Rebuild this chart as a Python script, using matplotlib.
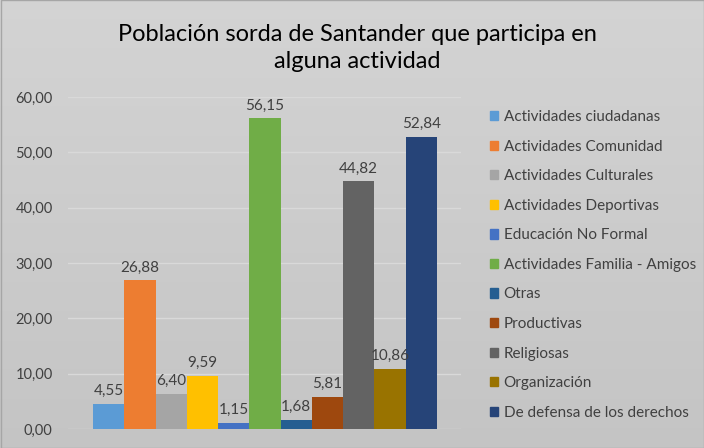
import matplotlib
matplotlib.use("Agg")
import matplotlib.pyplot as plt
from matplotlib.patches import Rectangle
import numpy as np

categories = ["Actividades ciudadanas", "Actividades Comunidad", "Actividades Culturales",
              "Actividades Deportivas", "Educación No Formal", "Actividades Familia - Amigos",
              "Otras", "Productivas", "Religiosas", "Organización", "De defensa de los derechos"]
values = [4.55, 26.88, 6.40, 9.59, 1.15, 56.15, 1.68, 5.81, 44.82, 10.86, 52.84]
colors = ["#5B9BD5", "#ED7D31", "#A5A5A5", "#FFC000", "#4472C4", "#70AD47",
          "#255E91", "#9E480E", "#636363", "#997300", "#264478"]
yticks = [0, 10, 20, 30, 40, 50, 60]
title = "Población sorda de Santander que participa en\nalguna actividad"

plt.rcParams['font.family'] = ['Lato', 'DejaVu Sans']

W, H = 704, 448
fig = plt.figure(figsize=(W/100, H/100), dpi=100)
# background gradient
bg = fig.add_axes([0, 0, 1, 1], zorder=-10)
grad = np.linspace(0.83, 0.77, 256).reshape(-1, 1)
bg.imshow(np.dstack([grad, grad, grad]), aspect='auto', extent=[0, 1, 0, 1])
bg.axis('off')
fig.patches.append(Rectangle((0.5/W, 0.5/H), 1-1/W, 1-1/H, transform=fig.transFigure,
                             fill=False, edgecolor='#a6a6a6', linewidth=1))

ax = fig.add_axes([68/W, 1-429/H, (461-68)/W, (429-97)/H])
ax.patch.set_alpha(0)
x = np.arange(len(values))
bars = ax.bar(x, values, width=1.0, color=colors, label=categories, zorder=3)
for xi, v in zip(x, values):
    ax.annotate(f"{v:.2f}".replace('.', ','), (xi, v), xytext=(0, 4), textcoords='offset points',
                ha='center', va='bottom', fontsize=11, color='#404040', zorder=4)
ax.set_ylim(0, 60)
ax.set_xlim(-1.3, 11.27)
ax.set_yticks(yticks)
ax.set_yticklabels([f"{t:.2f}".replace('.', ',') for t in yticks], fontsize=10.5, color='#404040')
ax.tick_params(axis='y', length=0, pad=11)
ax.set_xticks([])
ax.grid(axis='y', color='#d9d9d9', linewidth=1, zorder=0)
for s in ax.spines.values():
    s.set_visible(False)

fig.text(357/W, 1-48/H, title, ha='center', va='center', fontsize=17, color='#000000',
         linespacing=1.4)

handles = [Rectangle((0, 0), 1, 1, color=c) for c in colors]
leg = fig.legend(handles, categories, loc='upper left', bbox_to_anchor=(490/W, 1-110/H),
                 frameon=False, fontsize=11, handlelength=0.55, handleheight=0.55,
                 handletextpad=0.35, labelspacing=1.02, borderaxespad=0, borderpad=0)
for t in leg.get_texts():
    t.set_color('#404040')

fig.savefig("out.png", dpi=100)
